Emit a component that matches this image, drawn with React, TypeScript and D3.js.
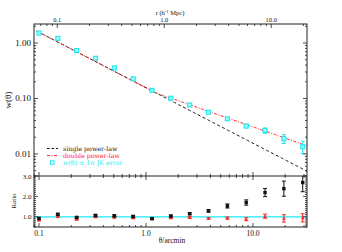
import React from 'react';
import * as d3 from 'd3';

const thetas = [0.1, 0.15, 0.225, 0.3375, 0.506, 0.759, 1.139, 1.709, 2.563, 3.844, 5.767, 8.65, 12.97, 19.46, 29.19];
const wVals = [1.51, 1.21, 0.73, 0.53, 0.356, 0.226, 0.14, 0.101, 0.0764, 0.0566, 0.043, 0.0318, 0.0265, 0.0188, 0.0135];
const wErr = [0.07, 0.05, 0.03, 0.02, 0.014, 0.009, 0.006, 0.004, 0.003, 0.0025, 0.002, 0.0022, 0.0029, 0.0034, 0.0034];
const ratioSingle = [0.92, 1.12, 0.97, 1.07, 1.05, 1.02, 0.91, 1.04, 1.15, 1.29, 1.53, 1.7, 2.19, 2.38, 2.68];
const ratioSingleErr = [0.05, 0.05, 0.04, 0.04, 0.04, 0.04, 0.04, 0.04, 0.05, 0.06, 0.1, 0.13, 0.2, 0.37, 0.45];
const ratioDouble = [0.84, 1.03, 0.88, 1.0, 0.98, 0.95, 0.9, 0.95, 0.97, 0.92, 0.94, 0.88, 1.03, 0.92, 0.95];
const ratioDoubleErr = [0.04, 0.04, 0.03, 0.03, 0.03, 0.03, 0.03, 0.03, 0.04, 0.04, 0.05, 0.07, 0.1, 0.18, 0.2];
const xTickLabels = ['0.1', '1.0', '10.0'];
const yTickLabels = ['1.00', '0.10', '0.01'];
const ratioTickLabels = ['1.0', '2.0', '3.0'];
const legendLabels = ['single power-law', 'double power-law', 'w(θ) ± 1σ JK error'];

// model parameters
const ampSingle = 0.156;
const slopeSingle = -1.0;
const thetaBreak = 1.24;
const slopeLarge = -0.675;
const rPerArcmin = 0.675;

const W = 342, H = 252;
const L = 34, R = 307, T = 24, MB = 176, RB = 227;
const FONT = '"Liberation Serif", "DejaVu Serif", serif';
const LFONT = '"DejaVu Serif", serif';

function single(t: number) { return ampSingle * Math.pow(t, slopeSingle); }
function dbl(t: number) {
  if (t < thetaBreak) return single(t);
  return single(thetaBreak) * Math.pow(t / thetaBreak, slopeLarge);
}

function logMinors(lo: number, hi: number) {
  const out: { v: number; major: boolean }[] = [];
  for (let e = Math.floor(Math.log10(lo)); e <= Math.ceil(Math.log10(hi)); e++) {
    for (let m = 1; m <= 9; m++) {
      const v = m * Math.pow(10, e);
      if (v >= lo * 0.9999 && v <= hi * 1.0001) out.push({ v, major: m === 1 });
    }
  }
  return out;
}

export default function App() {
  const x = d3.scaleLog().domain([0.0898, 32]).range([L, R]);
  const xr = d3.scaleLog().domain([0.0898 * rPerArcmin, 32 * rPerArcmin]).range([L, R]);
  const y = d3.scaleLog().domain([0.004, 2.2]).range([MB, T]);
  const yr = d3.scaleLinear().domain([0.5, 3.0]).range([RB, MB]);

  const thetaTicks = logMinors(0.0898, 32);
  const rTicks = logMinors(0.0898 * rPerArcmin, 32 * rPerArcmin);
  const wTicks = logMinors(0.004, 2.2);
  const ratioTicks = d3.range(5, 31).map((i) => ({ v: i / 10, major: i % 10 === 0 }));

  const lineGrid = d3.range(0, 201).map((i) => 0.095 * Math.pow(32 / 0.095, i / 200));
  const lineGen = (f: (t: number) => number) =>
    d3.line<number>().x((t) => x(t)).y((t) => y(f(t)))(lineGrid) || '';

  const maj = 4, mnr = 2;
  const ax = '#222';
  const cyan = '#1ee8ee';
  const red = '#ff2020';

  const tri = (cx: number, cy: number, s: number) =>
    `M${cx},${cy - s}L${cx + s},${cy + s * 0.8}L${cx - s},${cy + s * 0.8}Z`;

  return (
    <svg width={W} height={H} style={{ position: 'absolute', left: 0, top: 0, background: '#fff' }} fontFamily={FONT}>
      <defs>
        <clipPath id="mainclip"><rect x={L} y={T} width={R - L} height={MB - T} /></clipPath>
        <clipPath id="ratioclip"><rect x={L} y={MB} width={R - L} height={RB - MB} /></clipPath>
      </defs>
      <g clipPath="url(#mainclip)">
        <path d={lineGen(single)} fill="none" stroke="#111" strokeWidth={1} strokeDasharray="3,2.5" />
        <path d={lineGen(dbl)} fill="none" stroke={red} strokeWidth={1} strokeDasharray="3,1.5,1,1.5" />
        {thetas.map((t, i) => {
          const cx = x(t), cy = y(wVals[i]);
          const y1 = y(wVals[i] + wErr[i]), y2 = y(wVals[i] - wErr[i]);
          return (
            <g key={i}>
              <line x1={cx} x2={cx} y1={y1} y2={y2} stroke={cyan} strokeWidth={1} />
              <line x1={cx - 2} x2={cx + 2} y1={y1} y2={y1} stroke={cyan} strokeWidth={1} />
              <line x1={cx - 2} x2={cx + 2} y1={y2} y2={y2} stroke={cyan} strokeWidth={1} />
              <rect x={cx - 2} y={cy - 2} width={4} height={4} fill="#9ff" stroke={cyan} strokeWidth={1.1} />
            </g>
          );
        })}
      </g>

      <g clipPath="url(#ratioclip)">
        <line x1={L} x2={R} y1={yr(1)} y2={yr(1)} stroke={cyan} strokeWidth={1.2} />
        {thetas.map((t, i) => {
          const cx = x(t);
          const cy = yr(ratioDouble[i]);
          const y1 = yr(ratioDouble[i] + ratioDoubleErr[i]), y2 = yr(ratioDouble[i] - ratioDoubleErr[i]);
          return (
            <g key={'d' + i}>
              <line x1={cx} x2={cx} y1={y1} y2={y2} stroke={red} strokeWidth={1} />
              <line x1={cx - 2} x2={cx + 2} y1={y1} y2={y1} stroke={red} strokeWidth={1} />
              <line x1={cx - 2} x2={cx + 2} y1={y2} y2={y2} stroke={red} strokeWidth={1} />
              <path d={tri(cx, cy, 1.8)} fill={red} />
            </g>
          );
        })}
        {thetas.map((t, i) => {
          const cx = x(t);
          const cy = yr(ratioSingle[i]);
          const y1 = yr(ratioSingle[i] + ratioSingleErr[i]), y2 = yr(ratioSingle[i] - ratioSingleErr[i]);
          return (
            <g key={'s' + i}>
              <line x1={cx} x2={cx} y1={y1} y2={y2} stroke="#111" strokeWidth={1} />
              <line x1={cx - 2} x2={cx + 2} y1={y1} y2={y1} stroke="#111" strokeWidth={1} />
              <line x1={cx - 2} x2={cx + 2} y1={y2} y2={y2} stroke="#111" strokeWidth={1} />
              <rect x={cx - 1.7} y={cy - 1.7} width={3.4} height={3.4} fill="#111" />
            </g>
          );
        })}
      </g>

      <rect x={L} y={T} width={R - L} height={RB - T} fill="none" stroke={ax} strokeWidth={1} />
      <line x1={L} x2={R} y1={MB} y2={MB} stroke={ax} strokeWidth={1} />

      {thetaTicks.map((tk, i) => {
        const xx = x(tk.v);
        const l = tk.major ? maj : mnr;
        return (
          <g key={'tt' + i} stroke={ax} strokeWidth={0.8}>
            <line x1={xx} x2={xx} y1={MB} y2={MB - l} />
            <line x1={xx} x2={xx} y1={MB} y2={MB + l} />
            <line x1={xx} x2={xx} y1={RB} y2={RB - l} />
          </g>
        );
      })}
      {rTicks.map((tk, i) => {
        const xx = xr(tk.v);
        const l = tk.major ? maj : mnr;
        return <line key={'rt' + i} x1={xx} x2={xx} y1={T} y2={T + l} stroke={ax} strokeWidth={0.8} />;
      })}
      {wTicks.map((tk, i) => {
        const yy = y(tk.v);
        const l = tk.major ? maj : mnr;
        return (
          <g key={'wt' + i} stroke={ax} strokeWidth={0.8}>
            <line x1={L} x2={L + l} y1={yy} y2={yy} />
            <line x1={R} x2={R - l} y1={yy} y2={yy} />
          </g>
        );
      })}
      {ratioTicks.map((tk, i) => {
        const yy = yr(tk.v);
        const l = tk.major ? maj : mnr;
        return (
          <g key={'qt' + i} stroke={ax} strokeWidth={0.8}>
            <line x1={L} x2={L + l} y1={yy} y2={yy} />
            <line x1={R} x2={R - l} y1={yy} y2={yy} />
          </g>
        );
      })}

      {[0.1, 1, 10].map((v, i) => (
        <text key={'xl' + i} x={x(v)} y={236} fontSize={7.5} textAnchor="middle" fill="#111">{xTickLabels[i]}</text>
      ))}
      {[0.1, 1, 10].map((v, i) => (
        <text key={'rl' + i} x={xr(v)} y={22} fontSize={6.5} textAnchor="middle" fill="#111">{xTickLabels[i]}</text>
      ))}
      {[1, 0.1, 0.01].map((v, i) => (
        <text key={'yl' + i} x={31} y={y(v) + 3} fontSize={9} textAnchor="end" fill="#111">{yTickLabels[i]}</text>
      ))}
      {[1, 2, 3].map((v, i) => (
        <text key={'ql' + i} x={32} y={yr(v) + 2.5} fontSize={7} textAnchor="middle" dx={-5} fill="#111">{ratioTickLabels[i]}</text>
      ))}

      <text x={172} y={243} fontSize={7.5} textAnchor="middle" fill="#111">θ/arcmin</text>
      <text x={170} y={15} fontSize={6.5} textAnchor="middle" fill="#111">
        r (h<tspan dy={-2} fontSize={4.5}>-1</tspan><tspan dy={2}> Mpc)</tspan>
      </text>
      <text transform={`translate(11,100) rotate(-90)`} fontSize={9} textAnchor="middle" fill="#111">w(θ)</text>
      <text transform={`translate(16,201) rotate(-90)`} fontSize={7} textAnchor="middle" fill="#111">Ratio</text>

      <g fontSize={6.3} fontFamily={LFONT}>
        <line x1={47} x2={58} y1={148.5} y2={148.5} stroke="#111" strokeDasharray="2.5,2" />
        <text x={63} y={150.7} fill="#222">{legendLabels[0]}</text>
        <line x1={47} x2={58} y1={155.6} y2={155.6} stroke={red} strokeDasharray="3,1.5,1,1.5" />
        <text x={63} y={157.8} fill={red}>{legendLabels[1]}</text>
        <rect x={50.5} y={160.8} width={3.5} height={3.5} fill="none" stroke={cyan} strokeWidth={1} />
        <text x={63} y={164.9} fill={cyan}>{legendLabels[2]}</text>
      </g>
    </svg>
  );
}
